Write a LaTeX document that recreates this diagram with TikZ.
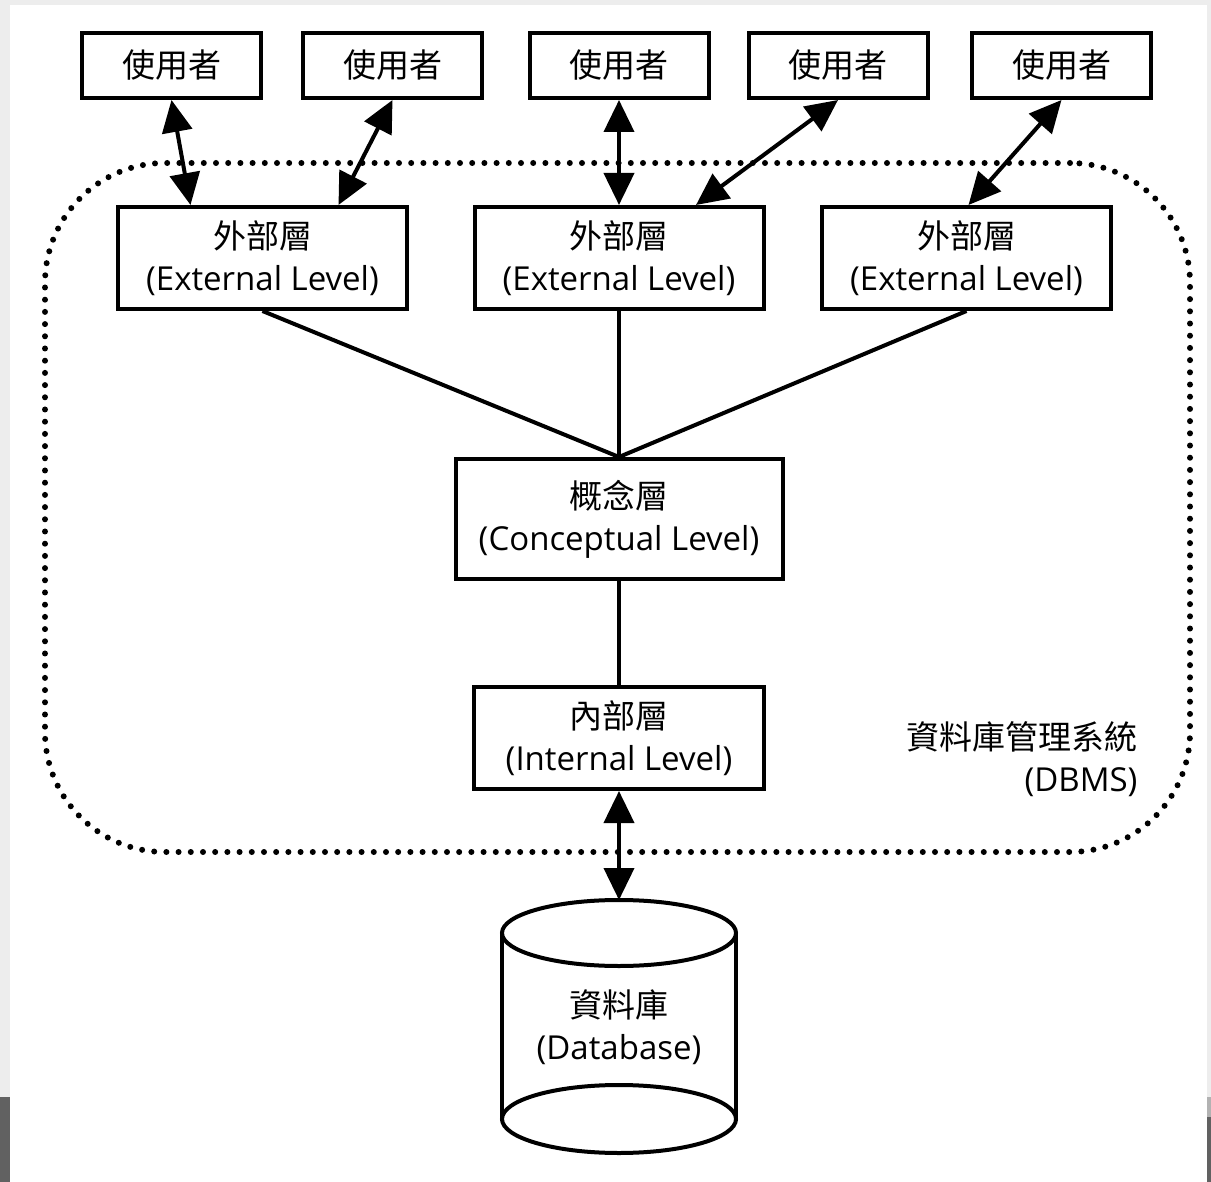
\documentclass[tikz,border=0pt]{standalone}
\usepackage{fontspec}
\setmainfont{Open Sans}
\newfontfamily\cjk{Noto Sans CJK TC}
\usepackage{tikz}
\usetikzlibrary{positioning,arrows.meta}

\begin{document}
\begin{tikzpicture}[x=1pt, y=-1pt,
  box/.style={draw, line width=4pt, fill=white, align=center, inner sep=0pt, font=\fontsize{33}{42}\selectfont, minimum width=#1, minimum height=102pt},
  box/.default=289pt,
  user/.style={box=179pt, minimum height=65pt},
  arrow/.style={{Triangle[length=32pt, width=30pt]}-{Triangle[length=32pt, width=30pt]}, line width=4pt},
  link/.style={line width=4pt},
  dbmsframe/.style={draw, line width=6pt, line cap=round, dash pattern=on 0pt off 12.2pt, rounded corners=120pt}]
  \useasboundingbox (0,0) rectangle (1211,1182);
  \fill[black!7] (0,0) rectangle (1211,1182);
  \fill[white] (10,5) rectangle (1207,1182);
  \fill[black!62] (0,1097) rectangle (10,1182);
  \fill[black!30] (1207,1097) rectangle (1211,1117);
  \fill[black!62] (1207,1117) rectangle (1211,1182);
  \node[dbmsframe, minimum width=1145pt, minimum height=689pt] (dbms) at (617.5,507.5) {};
  \node[anchor=east, align=right, font=\fontsize{33}{42}\selectfont] (dbmstext) at (1141,759) {{\cjk 資料庫管理系統}\\(DBMS)};
  \foreach \i/\x in {1/171.5, 2/392.5, 3/619, 4/838, 5/1061.5} \node[user] (u\i) at (\x,65.5) {\cjk 使用者};
  \foreach \i/\x in {1/262.5, 2/619, 3/966.5} \node[box] (e\i) at (\x,258) {{\cjk 外部層}\\(External Level)};
  \node[box=327pt, minimum height=120pt] (c) at (619,519) {{\cjk 概念層}\\(Conceptual Level)};
  \node[box=290pt] (n) at (619,738) {{\cjk 內部層}\\(Internal Level)};
  \draw[line width=4pt, fill=white] (502,933) -- (502,1119) -- (736,1119) -- (736,933);
  \draw[line width=4pt, fill=white] (619,1119) ellipse [x radius=117, y radius=34];
  \draw[line width=4pt, fill=white] (619,933) ellipse [x radius=117, y radius=33];
  \node[font=\fontsize{33}{42}\selectfont, align=center] (db) at (619,1027) {{\cjk 資料庫}\\(Database)};
  \coordinate (dbtop) at (619,900);
  \draw[arrow] (u1.south) -- ([xshift=-72pt]e1.north);
  \draw[arrow] (u2.south) -- ([xshift=76pt]e1.north);
  \draw[arrow] (u3.south) -- (e2.north);
  \draw[arrow] (u4.south) -- ([xshift=77pt]e2.north);
  \draw[arrow] (u5.south) -- ([xshift=2pt]e3.north);
  \draw[arrow] (n.south) -- (dbtop);
  \foreach \i in {1,2,3} \draw[link] (e\i.south) -- (c.north);
  \draw[link] (c.south) -- (n.north);
\end{tikzpicture}
\end{document}
